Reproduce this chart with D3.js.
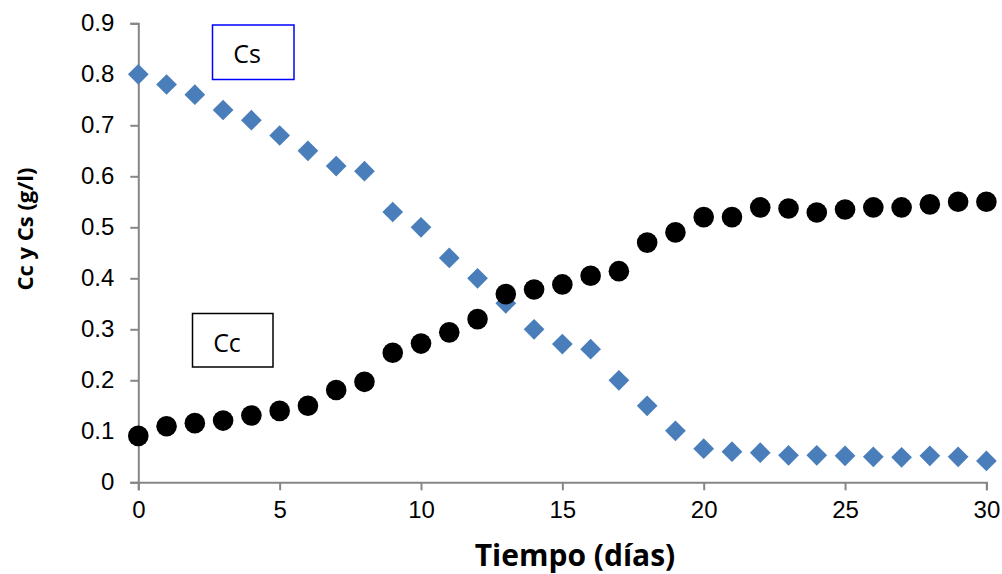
<!DOCTYPE html>
<html>
<head>
<meta charset="utf-8">
<style>
  body { margin: 0; background: #fff; }
  svg { display: block; font-family: 'Open Sans', 'Liberation Sans', sans-serif; }
</style>
</head>
<body>
<div id="chart"></div>
<script src="https://cdn.jsdelivr.net/npm/d3@7"></script>
<script>
    var width = 1002,
        height = 574;

    // tiempo en dias
    var dias = [0, 1, 2, 3, 4, 5, 6, 7, 8, 9, 10, 11, 12, 13, 14, 15, 16, 17, 18, 19, 20,
                21, 22, 23, 24, 25, 26, 27, 28, 29, 30];

    // sustrato (rombos azules)
    var cs = [0.80, 0.78, 0.76, 0.73, 0.71, 0.68, 0.65, 0.62, 0.61, 0.53, 0.50,
              0.44, 0.40, 0.351, 0.30, 0.271, 0.261, 0.20, 0.15, 0.101, 0.066,
              0.060, 0.058, 0.053, 0.053, 0.052, 0.050, 0.049, 0.052, 0.050, 0.042];

    // celulas (circulos negros)
    var cc = [0.091, 0.110, 0.116, 0.121, 0.131, 0.140, 0.150, 0.181, 0.197, 0.254, 0.272,
              0.294, 0.320, 0.369, 0.378, 0.388, 0.405, 0.414, 0.470, 0.490, 0.520,
              0.520, 0.539, 0.537, 0.529, 0.535, 0.539, 0.539, 0.545, 0.550, 0.550];

    var xTicks = [0, 5, 10, 15, 20, 25, 30];
    var yTicks = [0, 0.1, 0.2, 0.3, 0.4, 0.5, 0.6, 0.7, 0.8, 0.9];

    var svg = d3.select('#chart')
        .append('svg')
        .attr('width', width)
        .attr('height', height);

    var x = d3.scaleLinear()
        .domain([0, 30])
        .range([138.3, 986.4]);

    var y = d3.scaleLinear()
        .domain([0, 0.9])
        .range([482.3, 23.3]);

    var axisColor = '#868686';

    // eje y
    var yAxis = svg.append('g')
        .attr('transform', 'translate(' + x(0) + ',0)')
        .call(d3.axisLeft(y).tickValues(yTicks).tickSize(8).tickPadding(16)
            .tickFormat(function(d){ return d === 0 ? '0' : d3.format('.1f')(d); }));

    // eje x
    var xAxis = svg.append('g')
        .attr('transform', 'translate(0,' + y(0) + ')')
        .call(d3.axisBottom(x).tickValues(xTicks).tickSize(8).tickPadding(11));

    [yAxis, xAxis].forEach(function(ax){
        ax.select('.domain').attr('stroke', axisColor).attr('stroke-width', 2);
        ax.selectAll('.tick line').attr('stroke', axisColor).attr('stroke-width', 2);
        ax.selectAll('.tick text').attr('fill', '#000').style('font-size', '24px');
    });

    // series
    var diamond = d3.symbol().type(d3.symbolSquare).size(215);

    svg.append('g').selectAll('path')
        .data(dias)
        .enter().append('path')
        .attr('d', diamond)
        .attr('transform', function(d, i){ return 'translate(' + x(d) + ',' + y(cs[i]) + ') rotate(45)'; })
        .attr('fill', '#4a7ebb');

    svg.append('g').selectAll('circle')
        .data(dias)
        .enter().append('circle')
        .attr('cx', function(d){ return x(d); })
        .attr('cy', function(d, i){ return y(cc[i]); })
        .attr('r', 10.3)
        .attr('fill', '#000');

    // titulos de ejes
    svg.append('text')
        .attr('x', 575)
        .attr('y', 566)
        .attr('text-anchor', 'middle')
        .style('font-size', '30px')
        .style('font-weight', 'bold')
        .text('Tiempo (días)');

    svg.append('text')
        .attr('transform', 'translate(33,229) rotate(-90)')
        .attr('text-anchor', 'middle')
        .style('font-size', '22px')
        .style('font-weight', 'bold')
        .text('Cc y Cs (g/l)');

    // cuadros de etiqueta
    function label(x0, y0, w, h, txt, stroke, tx, ty){
        svg.append('rect')
            .attr('x', x0).attr('y', y0)
            .attr('width', w).attr('height', h)
            .attr('fill', '#fff')
            .attr('stroke', stroke)
            .attr('stroke-width', 1.5);
        svg.append('text')
            .attr('x', tx).attr('y', ty)
            .attr('text-anchor', 'middle')
            .style('font-size', '25px')
            .text(txt);
    }

    label(212.5, 25, 81.5, 54.5, 'Cs', '#0000ff', 247, 63);
    label(192.5, 313.5, 80.5, 53.5, 'Cc', '#000', 227, 352);
</script>
</body>
</html>
